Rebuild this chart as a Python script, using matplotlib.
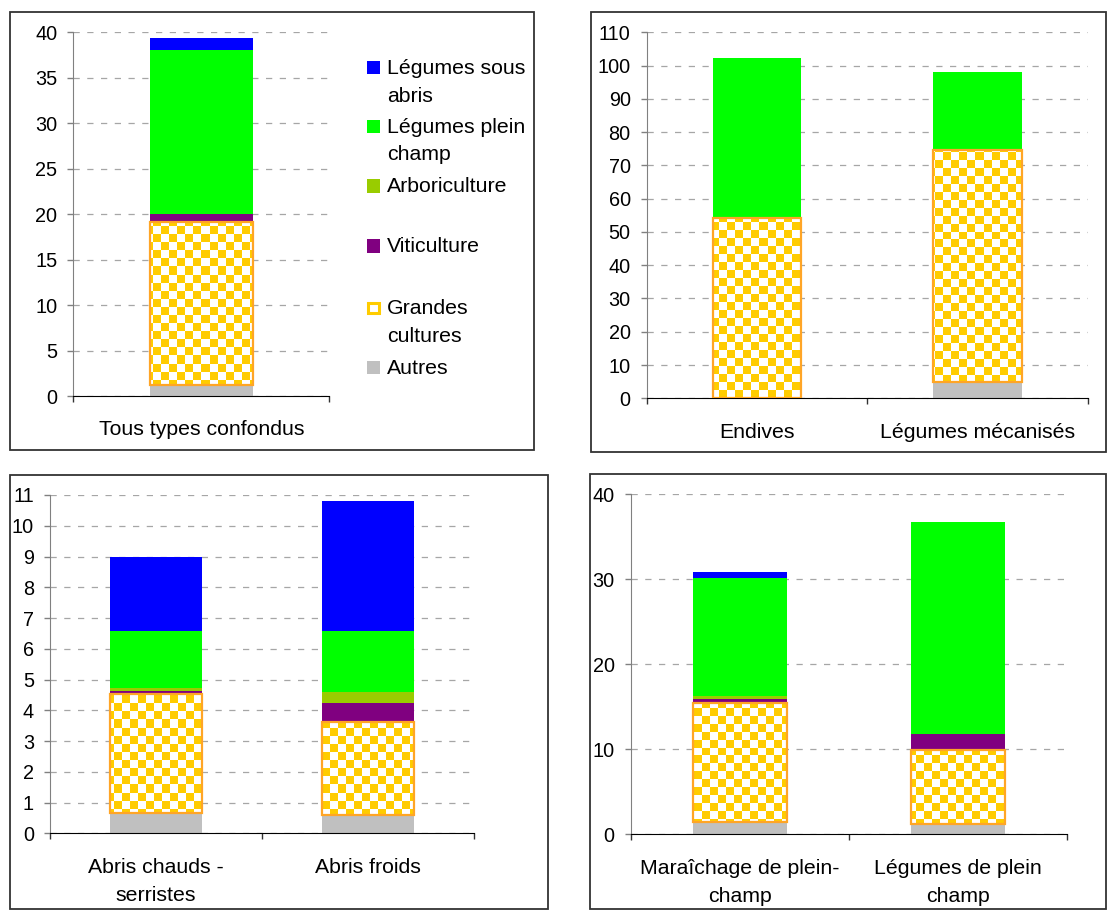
import numpy as np
import matplotlib
matplotlib.use("Agg")
import matplotlib.pyplot as plt
from matplotlib.patches import Rectangle
from matplotlib.colors import ListedColormap

plt.rcParams['font.family'] = ['Liberation Sans', 'DejaVu Sans']

# ---------------- data ----------------
series_names = ["Autres", "Grandes cultures", "Viticulture", "Arboriculture",
                "Légumes plein champ", "Légumes sous abris"]
series_colors = ["#C0C0C0", "#FFCC00", "#800080", "#99CC00", "#00FF00", "#0000FF"]

cats1 = ["Tous types confondus"]
autres1 = [1.2]
grandes1 = [17.9]
viti1 = [0.9]
arbo1 = [0.0]
plein1 = [18.1]
abris1 = [1.3]

cats2 = ["Endives", "Légumes mécanisés"]
autres2 = [0.0, 5.0]
grandes2 = [54.2, 69.7]
viti2 = [0.0, 0.0]
arbo2 = [0.0, 0.0]
plein2 = [48.0, 23.3]
abris2 = [0.0, 0.0]

cats3 = ["Abris chauds -\nserristes", "Abris froids"]
autres3 = [0.65, 0.58]
grandes3 = [3.87, 3.05]
viti3 = [0.10, 0.60]
arbo3 = [0.09, 0.35]
plein3 = [1.88, 2.01]
abris3 = [2.40, 4.21]

cats4 = ["Maraîchage de plein-\nchamp", "Légumes de plein\nchamp"]
autres4 = [1.5, 1.26]
grandes4 = [13.95, 8.7]
viti4 = [0.43, 1.8]
arbo4 = [0.39, 0.0]
plein4 = [13.83, 24.94]
abris4 = [0.7, 0.0]

yticks1 = np.arange(0, 41, 5)
yticks2 = np.arange(0, 111, 10)
yticks3 = np.arange(0, 12, 1)
yticks4 = np.arange(0, 41, 10)

# ---------------- figure ----------------
W, H = 1108, 911
fig = plt.figure(figsize=(W / 100, H / 100), dpi=100)


def rect_px(x0, y0, x1, y1):
    """pixel box (top-left origin) -> figure fraction [l, b, w, h]"""
    return [x0 / W, 1 - y1 / H, (x1 - x0) / W, (y1 - y0) / H]


def frame(x0, y0, x1, y1):
    l, b, w, h = rect_px(x0, y0, x1, y1)
    fig.add_artist(Rectangle((l, b), w, h, transform=fig.transFigure,
                             fill=False, edgecolor="#333333", linewidth=1.3))


frame(10, 12, 534, 450)
frame(591, 12, 1106, 452)
frame(10, 475, 548, 909)
frame(590, 474, 1106, 909)

TICK_FS = 14.3
CAT_FS = 15.3

checker_cmap = ListedColormap(["white", "#FFCC00"])


def panel(box, cats, stacks, yticks, width):
    ax = fig.add_axes(rect_px(*box))
    n = len(cats)
    x = np.arange(n)
    bottom = np.zeros(n)
    for name, vals, col in zip(series_names, stacks, series_colors):
        vals = np.asarray(vals, dtype=float)
        if name == "Grandes cultures":
            bars = ax.bar(x, vals, width, bottom=bottom, color="white",
                          linewidth=0, zorder=2)
            ax.bar(x, vals, width, bottom=bottom, fill=False,
                   edgecolor="#FFA526", linewidth=1.6, zorder=4)
            grand_bars = bars
        else:
            ax.bar(x, vals, width, bottom=bottom, color=col, linewidth=0, zorder=2)
        bottom = bottom + vals
    ax.set_xlim(-0.5, n - 0.5)
    ax.set_ylim(yticks[0], yticks[-1])
    # checker pattern clipped to each "Grandes cultures" bar
    l, b, w, h = ax.get_position().bounds
    wpx, hpx = w * W, h * H
    nx, ny = int(round(wpx / 8)), int(round(hpx / 8))
    ii, jj = np.meshgrid(np.arange(nx), np.arange(ny))
    board = (ii + jj) % 2
    for p in grand_bars.patches:
        im = ax.imshow(board, extent=(-0.5, n - 0.5, yticks[0], yticks[-1]),
                       origin="lower", aspect="auto", interpolation="nearest",
                       cmap=checker_cmap, zorder=3)
        im.set_clip_path(p)
    ax.set_xlim(-0.5, n - 0.5)
    ax.set_ylim(yticks[0], yticks[-1])
    # axes style
    ax.set_yticks(yticks)
    ax.yaxis.grid(True, linestyle=(0, (5, 6)), color="#A6A6A6", linewidth=0.9, zorder=0)
    ax.set_axisbelow(True)
    ax.tick_params(axis="y", direction="out", length=4, width=1, color="#808080",
                   labelsize=TICK_FS, pad=7.5)
    ax.set_xticks(np.arange(n + 1) - 0.5)
    ax.set_xticklabels([])
    ax.tick_params(axis="x", which="major", direction="out", length=4, width=1,
                   color="#333333")
    ax.set_xticks(x, minor=True)
    ax.set_xticklabels(cats, minor=True, linespacing=1.6)
    ax.tick_params(axis="x", which="minor", length=0, labelsize=CAT_FS, pad=17.5)
    for s in ("top", "right"):
        ax.spines[s].set_visible(False)
    ax.spines["left"].set_color("#808080")
    ax.spines["bottom"].set_color("#000000")
    return ax


panel((73.3, 32.3, 329.3, 396), cats1,
      [autres1, grandes1, viti1, arbo1, plein1, abris1], yticks1, 0.4)
panel((646.7, 32.3, 1087.7, 398.3), cats2,
      [autres2, grandes2, viti2, arbo2, plein2, abris2], yticks2, 0.4)
panel((50, 495, 474, 833.3), cats3,
      [autres3, grandes3, viti3, arbo3, plein3, abris3], yticks3, 0.43)
panel((630.7, 494, 1066.7, 834.3), cats4,
      [autres4, grandes4, viti4, arbo4, plein4, abris4], yticks4, 0.43)

# ---------------- legend (panel 1) ----------------
legend_items = [
    ("Légumes sous\nabris", "#0000FF", 74),
    ("Légumes plein\nchamp", "#00FF00", 133),
    ("Arboriculture", "#99CC00", 192.5),
    ("Viticulture", "#800080", 252.5),
    ("Grandes\ncultures", None, 314),
    ("Autres", "#C0C0C0", 374),
]
for label, col, base in legend_items:
    if col is None:
        l, b, w, h = rect_px(368, base - 11.5, 379, base - 1)
        fig.add_artist(Rectangle((l, b), w, h, transform=fig.transFigure,
                                 facecolor="white", edgecolor="#FFCC00", linewidth=2.2))
    else:
        l, b, w, h = rect_px(367, base - 13, 380, base)
        fig.add_artist(Rectangle((l, b), w, h, transform=fig.transFigure,
                                 facecolor=col, edgecolor="none"))
    first, *rest = label.split("\n")
    fig.text(387 / W, 1 - base / H, first, fontsize=CAT_FS, va="baseline", ha="left")
    for k, line in enumerate(rest, start=1):
        fig.text(387 / W, 1 - (base + 27.5 * k) / H, line, fontsize=CAT_FS,
                 va="baseline", ha="left")

fig.savefig("out.png", dpi=100)
